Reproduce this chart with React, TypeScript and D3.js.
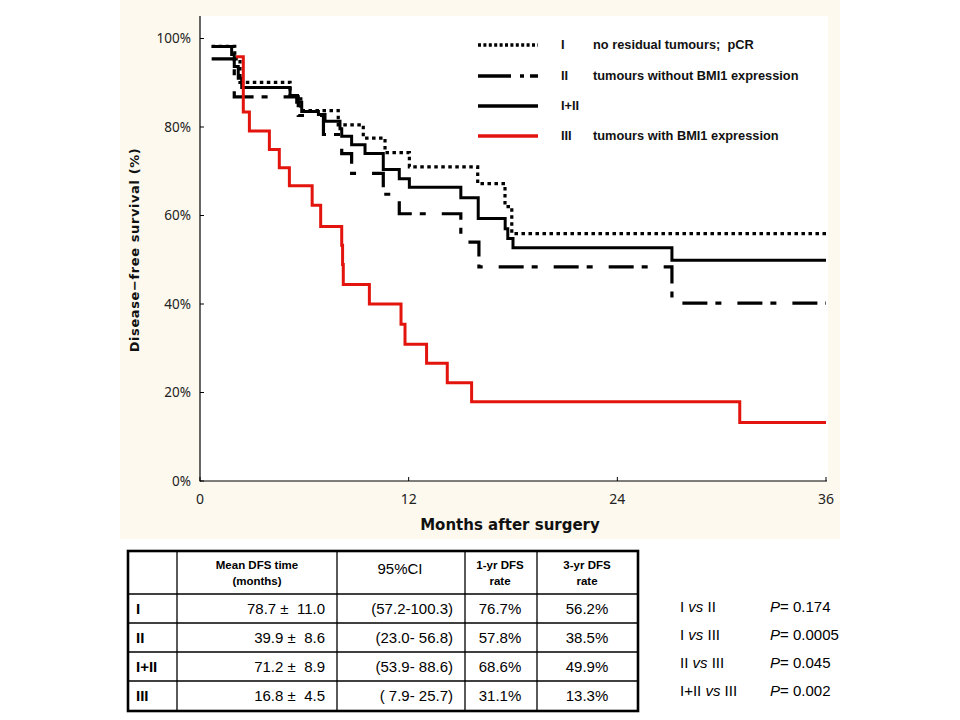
import React from 'react';
import * as d3 from 'd3';

// Kaplan-Meier steps (months, % disease-free)
const timesI = [0.67, 2.0, 2.3, 5.18, 5.8, 7.95, 9.39, 10.64, 12.04, 15.97, 17.54, 17.93];
const survI = [98.2, 95.4, 90.1, 87.1, 83.7, 80.5, 77.5, 74.2, 71.0, 67.2, 62.0, 55.9];

const timesII = [0.67, 1.97, 5.65, 7.1, 8.15, 8.72, 10.54, 11.46, 15.0, 16.04, 27.14];
const survII = [95.4, 86.8, 82.6, 78.3, 74.0, 69.5, 64.8, 60.4, 54.0, 48.4, 40.2];

const timesI_II = [0.67, 1.82, 1.97, 2.2, 2.4, 5.18, 5.56, 5.85, 6.81, 7.19, 8.05, 8.15, 8.72, 9.49, 10.54, 11.46, 12.04, 15.0, 16.0, 17.55, 17.7, 18.0, 27.14];
const survI_II = [98.2, 96.4, 93.7, 91.0, 88.9, 87.1, 85.6, 83.5, 82.8, 81.3, 79.6, 77.9, 76.0, 74.0, 70.4, 68.3, 66.4, 64.0, 59.3, 57.0, 54.8, 52.7, 49.9];

const timesIII = [2.07, 2.49, 2.84, 3.99, 4.56, 5.14, 6.45, 6.94, 8.15, 8.2, 8.24, 9.74, 11.56, 11.79, 13.03, 14.22, 15.62, 31.04];
const survIII = [95.9, 83.4, 79.1, 74.9, 70.8, 66.7, 62.3, 57.5, 53.3, 48.9, 44.4, 40.0, 35.4, 30.9, 26.6, 22.2, 17.9, 13.2];

const groups = ['I', 'II', 'I+II', 'III'];
const groupNotes = ['no residual tumours;  pCR', 'tumours without BMI1 expression', '', 'tumours with BMI1 expression'];

const xTicks = [0, 12, 24, 36];
const yTicks = [0, 20, 40, 60, 80, 100];

// table
const headMean = ['Mean DFS time', '(months)'];
const headCI = '95%CI';
const head1yr = ['1-yr DFS', 'rate'];
const head3yr = ['3-yr DFS', 'rate'];
const meanDfs = ['78.7', '39.9', '71.2', '16.8'];
const meanSe = ['11.0', '8.6', '8.9', '4.5'];
const ci95 = ['(57.2-100.3)', '(23.0- 56.8)', '(53.9- 88.6)', '( 7.9- 25.7)'];
const rate1yr = ['76.7%', '57.8%', '68.6%', '31.1%'];
const rate3yr = ['56.2%', '38.5%', '49.9%', '13.3%'];

// log-rank comparisons
const compA = ['I', 'I', 'II', 'I+II'];
const compB = ['II', 'III', 'III', 'III'];
const pValues = ['0.174', '0.0005', '0.045', '0.002'];

const App = () => {
  const x = d3.scaleLinear().domain([0, 36]).range([200, 826]);
  const y = d3.scaleLinear().domain([0, 100]).range([481, 38.5]);

  const line = d3.line<[number, number]>()
    .x(d => x(d[0]))
    .y(d => y(d[1]))
    .curve(d3.curveStepAfter);

  const pts = (t: number[], s: number[]): [number, number][] =>
    [...t.map((v, i) => [v, s[i]] as [number, number]), [36, s[s.length - 1]]];

  const series = [
    { name: groups[0], d: pts(timesI, survI), stroke: '#000', dash: '3.5,3.5', legDash: '3,2.4', w: 3.2 },
    { name: groups[1], d: pts(timesII, survII), stroke: '#000', dash: '25,8,6,16', legDash: '33,9,4,6', w: 3.2 },
    { name: groups[2], d: pts(timesI_II, survI_II), stroke: '#000', dash: null, legDash: null, w: 3 },
    { name: groups[3], d: pts(timesIII, survIII), stroke: '#e3140d', dash: null, legDash: null, w: 3 },
  ];

  const legY = [45, 76, 106, 136];

  const colEdges = [128, 177, 337, 465, 537, 638];
  const rowEdges = [551, 594, 623, 652, 681, 711];
  const rowMid = (i: number) => (rowEdges[i + 1] + rowEdges[i + 2]) / 2;
  const tf = 'Liberation Sans, Arial, sans-serif';

  return (
    <svg width={960} height={720} style={{ position: 'absolute', left: 0, top: 0, background: '#fff' }}>
      <rect x={120} y={0} width={720} height={539} fill="#fdf9ee" />
      <rect x={200} y={16} width={628} height={465} fill="#fff" />

      {/* axes */}
      <line x1={200} x2={200} y1={16} y2={481.5} stroke="#000" strokeWidth={1.2} />
      <line x1={200} x2={827} y1={481} y2={481} stroke="#000" strokeWidth={1.2} />
      {yTicks.map(t => (
        <g key={'y' + t}>
          <line x1={200} x2={204} y1={y(t)} y2={y(t)} stroke="#000" />
          <text x={191} y={y(t)} dy="0.35em" textAnchor="end" fontFamily="Noto Sans, sans-serif" fontSize={13.5} fill="#222">{t}%</text>
        </g>
      ))}
      {xTicks.map(t => (
        <g key={'x' + t}>
          <line x1={x(t)} x2={x(t)} y1={481} y2={477} stroke="#000" />
          <text x={x(t)} y={499} dy="0.35em" textAnchor="middle" fontFamily="Noto Sans, sans-serif" fontSize={14} fill="#222">{t}</text>
        </g>
      ))}
      <text transform="translate(139,250) rotate(-90)" textAnchor="middle" fontFamily="DejaVu Sans, sans-serif" fontWeight="bold" fontSize={13} letterSpacing={0.6} fill="#111">Disease−free survival (%)</text>
      <text x={510} y={525} dy="0.35em" textAnchor="middle" fontFamily="DejaVu Sans, sans-serif" fontWeight="bold" fontSize={15} fill="#111">Months after surgery</text>

      {/* curves */}
      {series.map(s => (
        <path key={s.name} d={line(s.d) || ''} fill="none" stroke={s.stroke} strokeWidth={s.w}
          strokeDasharray={s.dash || undefined} strokeLinejoin="miter" />
      ))}

      {/* legend */}
      {series.map((s, i) => (
        <g key={'leg' + s.name}>
          <line x1={478} x2={538} y1={legY[i]} y2={legY[i]} stroke={s.stroke} strokeWidth={3.6} strokeDasharray={s.legDash || undefined} />
          <text x={561} y={legY[i]} dy="0.35em" fontFamily={tf} fontWeight="bold" fontSize={12.8} fill="#111">{s.name}</text>
          <text x={593} y={legY[i]} dy="0.35em" fontFamily={tf} fontWeight="bold" fontSize={12.8} fill="#111" style={{ whiteSpace: 'pre' }}>{groupNotes[i]}</text>
        </g>
      ))}

      {/* table */}
      <g fontFamily={tf} fill="#000">
        {rowEdges.slice(1, -1).map(r => (
          <line key={'r' + r} x1={128} x2={638} y1={r} y2={r} stroke="#000" strokeWidth={1.3} />
        ))}
        {colEdges.slice(1, -1).map(c => (
          <line key={'c' + c} x1={c} x2={c} y1={551} y2={711} stroke="#000" strokeWidth={1.3} />
        ))}
        <rect x={128} y={551} width={510} height={160} fill="none" stroke="#000" strokeWidth={2.6} />

        <text x={257} y={565} dy="0.35em" textAnchor="middle" fontWeight="bold" fontSize={11.5}>{headMean[0]}</text>
        <text x={257} y={581} dy="0.35em" textAnchor="middle" fontWeight="bold" fontSize={11.5}>{headMean[1]}</text>
        <text x={400} y={569} dy="0.35em" textAnchor="middle" fontSize={15}>{headCI}</text>
        <text x={500} y={565} dy="0.35em" textAnchor="middle" fontWeight="bold" fontSize={11.5}>{head1yr[0]}</text>
        <text x={500} y={581} dy="0.35em" textAnchor="middle" fontWeight="bold" fontSize={11.5}>{head1yr[1]}</text>
        <text x={587} y={565} dy="0.35em" textAnchor="middle" fontWeight="bold" fontSize={11.5}>{head3yr[0]}</text>
        <text x={587} y={581} dy="0.35em" textAnchor="middle" fontWeight="bold" fontSize={11.5}>{head3yr[1]}</text>

        {groups.map((g, i) => (
          <g key={'row' + g} fontSize={15}>
            <text x={136} y={rowMid(i)} dy="0.35em" fontWeight="bold">{g}</text>
            <text x={325} y={rowMid(i)} dy="0.35em" textAnchor="end" style={{ whiteSpace: 'pre' }}>{meanDfs[i]} ±  {meanSe[i]}</text>
            <text x={453} y={rowMid(i)} dy="0.35em" textAnchor="end" style={{ whiteSpace: 'pre' }}>{ci95[i]}</text>
            <text x={500} y={rowMid(i)} dy="0.35em" textAnchor="middle">{rate1yr[i]}</text>
            <text x={587} y={rowMid(i)} dy="0.35em" textAnchor="middle">{rate3yr[i]}</text>
          </g>
        ))}
      </g>

      {/* p-values */}
      <g fontFamily={tf} fontSize={15} fill="#000">
        {pValues.map((p, i) => (
          <g key={'p' + i}>
            <text x={680} y={607 + i * 28} dy="0.35em" style={{ whiteSpace: 'pre' }}>
              {compA[i]} <tspan fontStyle="italic">vs</tspan> {compB[i]}
            </text>
            <text x={770} y={607 + i * 28} dy="0.35em">
              <tspan fontStyle="italic">P</tspan>= {p}
            </text>
          </g>
        ))}
      </g>
    </svg>
  );
};

export default App;
